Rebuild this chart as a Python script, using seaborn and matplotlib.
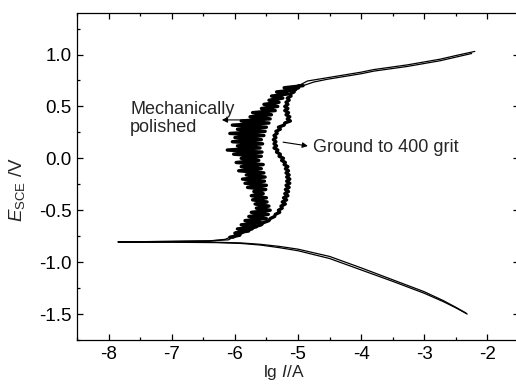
import matplotlib
matplotlib.use("Agg")
import matplotlib.pyplot as plt
import pandas as pd
import seaborn as sns
from matplotlib.ticker import MultipleLocator

# Potential grid of the passive region (V vs SCE)
passive_E = [-0.76, -0.74, -0.72, -0.70, -0.68, -0.66, -0.64, -0.62, -0.60, -0.58,
             -0.56, -0.54, -0.52, -0.50, -0.48, -0.46, -0.44, -0.42, -0.40, -0.38,
             -0.36, -0.34, -0.32, -0.30, -0.28, -0.26, -0.24, -0.22, -0.20, -0.18,
             -0.16, -0.14, -0.12, -0.10, -0.08, -0.06, -0.04, -0.02, 0.00, 0.02,
             0.04, 0.06, 0.08, 0.10, 0.12, 0.14, 0.16, 0.18, 0.20, 0.22,
             0.24, 0.26, 0.28, 0.30, 0.32, 0.34, 0.36, 0.38, 0.40, 0.42,
             0.44, 0.46, 0.48, 0.50, 0.52, 0.54, 0.56, 0.58, 0.60, 0.62,
             0.64, 0.66, 0.68, 0.70]

# Mechanically polished
mp_cath_lgI = [-2.32, -2.5, -2.7, -3.0, -3.5, -4.0, -4.5, -5.0, -5.3, -5.6, -5.9, -6.3, -7.0, -7.85]
mp_cath_E = [-1.50, -1.44, -1.38, -1.30, -1.185, -1.075, -0.965, -0.89, -0.86, -0.835, -0.82, -0.812, -0.808, -0.805]
mp_act_lgI = [-7.0, -6.4, -6.15]
mp_act_E = [-0.80, -0.795, -0.78]
mp_pass_lgI = [-6.08, -5.92, -6.00, -5.78, -5.96, -5.66, -5.90, -5.58, -5.84, -5.50,
               -5.78, -5.47, -5.74, -5.44, -5.66, -5.46, -5.68, -5.49, -5.72, -5.50,
               -5.74, -5.55, -5.70, -5.51, -5.80, -5.50, -5.84, -5.53, -5.88, -5.52,
               -5.82, -5.54, -5.94, -5.58, -5.90, -5.55, -5.98, -5.62, -5.90, -5.58,
               -6.02, -5.57, -6.12, -5.60, -5.96, -5.56, -6.04, -5.58, -6.00, -5.54,
               -6.08, -5.52, -5.96, -5.50, -6.04, -5.46, -5.90, -5.44, -5.76, -5.42,
               -5.72, -5.36, -5.58, -5.32, -5.54, -5.30, -5.46, -5.24, -5.42, -5.16,
               -5.34, -5.04, -5.22, -4.92]
mp_trans_lgI = [-4.75, -4.55, -4.3, -4.0, -3.8, -3.27, -2.75, -2.5, -2.25]
mp_trans_E = [0.735, 0.76, 0.785, 0.815, 0.84, 0.885, 0.94, 0.975, 1.01]

# Ground to 400 grit
g_cath_lgI = [-2.34, -2.5, -2.7, -3.0, -3.5, -4.0, -4.5, -5.0, -5.3, -5.6, -5.9, -6.3, -7.0, -7.85]
g_cath_E = [-1.49, -1.435, -1.37, -1.285, -1.17, -1.055, -0.945, -0.875, -0.848, -0.828, -0.815, -0.808, -0.806, -0.805]
g_act_lgI = [-7.0, -6.4, -6.1]
g_act_E = [-0.80, -0.795, -0.785]
g_pass_lgI = [-6.03, -5.97, -5.90, -5.84, -5.73, -5.69, -5.58, -5.55, -5.46, -5.44,
              -5.37, -5.36, -5.29, -5.31, -5.25, -5.27, -5.20, -5.25, -5.18, -5.23,
              -5.16, -5.21, -5.15, -5.20, -5.14, -5.19, -5.13, -5.18, -5.13, -5.18,
              -5.14, -5.19, -5.15, -5.20, -5.16, -5.22, -5.20, -5.26, -5.23, -5.30,
              -5.28, -5.34, -5.32, -5.38, -5.34, -5.38, -5.35, -5.39, -5.35, -5.38,
              -5.33, -5.35, -5.28, -5.31, -5.22, -5.21, -5.12, -5.17, -5.13, -5.19,
              -5.15, -5.21, -5.16, -5.21, -5.16, -5.19, -5.14, -5.17, -5.11, -5.13,
              -5.06, -5.07, -4.99, -4.99]
g_trans_lgI = [-4.85, -4.6, -4.3, -4.0, -3.8, -3.27, -2.75, -2.5, -2.2]
g_trans_E = [0.745, 0.77, 0.80, 0.83, 0.855, 0.90, 0.955, 0.99, 1.03]


def curve(name, cath_x, cath_y, act_x, act_y, pass_x, trans_x, trans_y):
    x = cath_x + act_x + pass_x + trans_x
    y = cath_y + act_y + passive_E + trans_y
    part = (["cathodic"] * len(cath_x) + ["active"] * len(act_x)
            + ["passive"] * len(pass_x) + ["transpassive"] * len(trans_x))
    return pd.DataFrame({"lgI": x, "E": y, "part": part, "sample": name})


df_mp = curve("Mechanically polished", mp_cath_lgI, mp_cath_E, mp_act_lgI, mp_act_E,
              mp_pass_lgI, mp_trans_lgI, mp_trans_E)
df_g = curve("Ground to 400 grit", g_cath_lgI, g_cath_E, g_act_lgI, g_act_E,
             g_pass_lgI, g_trans_lgI, g_trans_E)

sns.set_style("ticks")
plt.rcParams['font.family'] = ['Liberation Sans', 'DejaVu Sans']
plt.rcParams['mathtext.fontset'] = 'custom'
plt.rcParams['mathtext.rm'] = 'Liberation Sans'
plt.rcParams['mathtext.it'] = 'Liberation Sans:italic'

fig = plt.figure(figsize=(5.16, 3.84), dpi=100)
ax = fig.add_axes([77 / 516, 44 / 384, 442 / 516, 327 / 384])

for d in (df_mp, df_g):
    sns.lineplot(data=d, x="lgI", y="E", sort=False, estimator=None,
                 color="black", linewidth=0.9, ax=ax, legend=False)
    # noisy passive region is drawn heavier so it reads as a solid band
    sns.lineplot(data=d[d["part"] == "passive"], x="lgI", y="E", sort=False,
                 estimator=None, color="black", linewidth=2.4, ax=ax, legend=False)

ax.set_xlim(-8.5, -1.5)
ax.set_ylim(-1.75, 1.4)
ax.xaxis.set_major_locator(MultipleLocator(1))
ax.xaxis.set_minor_locator(MultipleLocator(0.5))
ax.yaxis.set_major_locator(MultipleLocator(0.5))
ax.yaxis.set_minor_locator(MultipleLocator(0.25))
ax.tick_params(which="both", direction="in", top=True, right=True, width=0.9,
               labelsize=13.5, colors="black")
ax.tick_params(which="major", length=4.5)
ax.tick_params(which="minor", length=2.5)
ax.tick_params(axis="x", pad=4.5)
ax.tick_params(axis="y", pad=4)
ax.xaxis.set_major_formatter(plt.FuncFormatter(lambda v, p: f"{v:.0f}"))
ax.yaxis.set_major_formatter(plt.FuncFormatter(lambda v, p: f"{v:.1f}"))
for s in ax.spines.values():
    s.set_linewidth(0.9)
    s.set_color("black")

ax.set_xlabel(r"lg $I$/A", fontsize=12.5)
ax.set_ylabel(r"$E_{\rm SCE}$ /V", fontsize=13.5)
ax.xaxis.set_label_coords(0.467, -0.07)
ax.yaxis.set_label_coords(-0.113, 0.46)

arrow = dict(arrowstyle="-|>", color="black", lw=0.8, mutation_scale=8)
ax.annotate("", xy=(-6.25, 0.37), xytext=(-5.8, 0.37), arrowprops=arrow)
ax.text(-7.66, 0.385, "Mechanically\npolished", fontsize=13, va="center", ha="left",
        linespacing=1.05)
ax.annotate("", xy=(-4.8, 0.115), xytext=(-5.28, 0.16), arrowprops=arrow)
ax.text(-4.76, 0.10, "Ground to 400 grit", fontsize=13, va="center", ha="left")

fig.savefig("out.png", dpi=100)
